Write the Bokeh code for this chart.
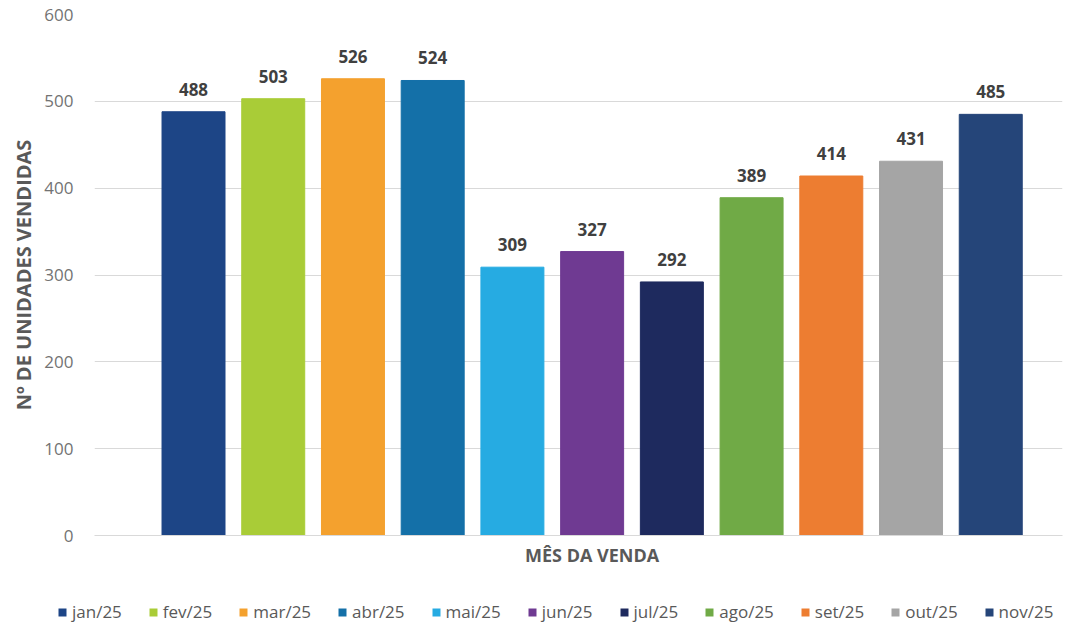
from bokeh.plotting import figure
from bokeh.models import ColumnDataSource, Legend, LegendItem, FixedTicker, Range1d, LabelSet
from bokeh.layouts import column
from bokeh.core.properties import value
from bokeh.embed import file_html
from bokeh.resources import INLINE

months = ["jan/25", "fev/25", "mar/25", "abr/25", "mai/25", "jun/25",
          "jul/25", "ago/25", "set/25", "out/25", "nov/25"]
units = [488, 503, 526, 524, 309, 327, 292, 389, 414, 431, 485]
colors = ["#1D4586", "#A9CC37", "#F4A12E", "#1470A8", "#26ABE2", "#6F3A92",
          "#1E2A5E", "#70AA46", "#ED7D31", "#A5A5A5", "#254579"]
y_ticks = [0, 100, 200, 300, 400, 500, 600]
x_title = "MÊS DA VENDA"
y_title = "Nº DE UNIDADES VENDIDAS"

FONT = "Open Sans"
GRAY = "#595959"
TICK_GRAY = "#737373"

idx = list(range(len(months)))
mid = (len(months) - 1) // 2
src = ColumnDataSource(dict(x=idx, y=units, month=months, color=colors,
                            label=[str(v) for v in units]))

p = figure(width=1070, height=577, output_backend="svg", toolbar_location=None,
           x_range=Range1d(-1.242, len(months) - 1 + 0.90),
           y_range=Range1d(0, 600),
           min_border_left=94, min_border_right=8, min_border_top=14,
           min_border_bottom=42)
p.outline_line_color = None

r = p.vbar(x="x", top="y", width=0.79, color="color", source=src)

labels = LabelSet(x="x", y="y", text="label", source=src, y_offset=16,
                  text_align="center", text_baseline="bottom",
                  text_font=value(FONT), text_font_style="bold", text_font_size="17px",
                  text_color="#404040")
p.add_layout(labels)

# x axis: single centred tick carries the axis title
p.xgrid.visible = False
p.xaxis.ticker = FixedTicker(ticks=[mid])
p.xaxis.major_label_overrides = {mid: x_title}
p.xaxis.major_tick_line_color = None
p.xaxis.minor_tick_line_color = None
p.xaxis.major_tick_out = 0
p.xaxis.major_tick_in = 0
p.xaxis.axis_line_color = "#D9D9D9"
p.xaxis.major_label_standoff = 7
p.xaxis.major_label_text_font = FONT
p.xaxis.major_label_text_font_style = "bold"
p.xaxis.major_label_text_font_size = "18px"
p.xaxis.major_label_text_color = GRAY

# y axis
p.ygrid.grid_line_color = "#D9D9D9"
p.ygrid.ticker = FixedTicker(ticks=y_ticks)
p.yaxis.ticker = FixedTicker(ticks=y_ticks)
p.yaxis.axis_line_color = None
p.yaxis.major_tick_line_color = None
p.yaxis.minor_tick_line_color = None
p.yaxis.major_tick_out = 0
p.yaxis.major_tick_in = 0
p.yaxis.major_label_text_font = FONT
p.yaxis.major_label_text_font_size = "17px"
p.yaxis.major_label_text_color = TICK_GRAY
p.yaxis.major_label_standoff = 21
p.yaxis.axis_label = y_title
p.yaxis.axis_label_text_font = FONT
p.yaxis.axis_label_text_font_style = "bold"
p.yaxis.axis_label_text_font_size = "20px"
p.yaxis.axis_label_text_color = GRAY
p.yaxis.axis_label_standoff = 4

# legend strip: same bars, kept far outside its visible range, only to feed the legend
pl = figure(width=1070, height=46, output_backend="svg", toolbar_location=None,
            x_axis_location=None, y_axis_location=None,
            x_range=Range1d(0, 1), y_range=Range1d(600, 601),
            min_border_left=0, min_border_right=0, min_border_top=0, min_border_bottom=0)
pl.frame_align = False
pl.grid.visible = False
pl.outline_line_color = None
rl = pl.vbar(x="x", top="y", width=0.79, fill_color="color", line_color=None, source=src)

items = [LegendItem(label=m, renderers=[rl], index=i) for i, m in enumerate(months)]
legend = Legend(items=items, orientation="horizontal", location=(57, 0),
                glyph_width=10, glyph_height=10, label_standoff=5, spacing=26,
                label_text_font=FONT, label_text_font_size="17px",
                label_text_color=GRAY, background_fill_alpha=0,
                border_line_color=None, padding=0, margin=0)
pl.add_layout(legend, "center")

open("out.html", "w").write(file_html(column(p, pl, spacing=0), INLINE))
